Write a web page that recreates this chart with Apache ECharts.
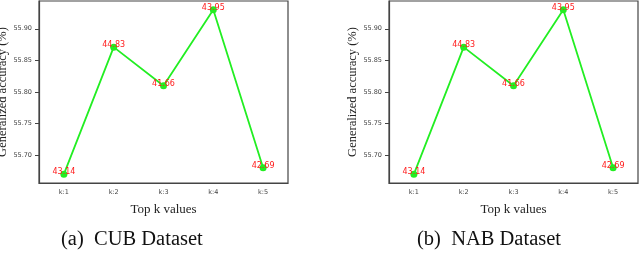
<!DOCTYPE html>
<html>
<head>
<meta charset="utf-8">
<script src="https://cdn.jsdelivr.net/npm/echarts@6/dist/echarts.min.js"></script>
<style>html,body{margin:0;padding:0;background:#fff}#c{width:640px;height:256px}</style>
</head>
<body>
<div id="c"></div>
<script>
var categories = ['k:1', 'k:2', 'k:3', 'k:4', 'k:5'];
var cubValues = [55.670, 55.871, 55.810, 55.930, 55.680];
var nabValues = [55.670, 55.871, 55.810, 55.930, 55.680];
var cubLabels = ['43.14', '44.83', '41.66', '43.95', '42.69'];
var nabLabels = ['43.14', '44.83', '41.66', '43.95', '42.69'];
var yTicks = [55.70, 55.75, 55.80, 55.85, 55.90];
var captions = ['(a)  CUB Dataset', '(b)  NAB Dataset'];
var yName = 'Generalized accuracy (%)';
var xName = 'Top k values';

var serif = '"Liberation Serif", "DejaVu Serif", serif';
var axisColor = '#444';

function xAxis(idx) {
  return {
    type: 'category', gridIndex: idx, data: categories, boundaryGap: true,
    name: xName, nameLocation: 'middle', nameGap: 20,
    nameTextStyle: { fontFamily: serif, fontSize: 13, color: '#222' },
    axisLine: { lineStyle: { color: axisColor, width: 1.2 } },
    axisTick: { alignWithLabel: true, length: 4, lineStyle: { color: axisColor } },
    axisLabel: { fontSize: 6.5, color: '#444', margin: 6, fontFamily: 'DejaVu Sans' },
    splitLine: { show: false }
  };
}
function yAxis(idx) {
  return {
    type: 'value', gridIndex: idx, min: 55.656, max: 55.944,
    name: yName, nameLocation: 'middle', nameGap: 28,
    nameTextStyle: { fontFamily: serif, fontSize: 12.5, color: '#222' },
    axisLine: { show: true, lineStyle: { color: axisColor, width: 1.2 } },
    axisTick: { show: true, length: 4, customValues: yTicks, lineStyle: { color: axisColor } },
    axisLabel: { fontSize: 6.5, color: '#444', margin: 7, fontFamily: 'DejaVu Sans', customValues: yTicks,
      formatter: function (v) { return v.toFixed(2); } },
    splitLine: { show: false }
  };
}
function series(idx, values, labels) {
  return {
    type: 'line', xAxisIndex: idx, yAxisIndex: idx, data: values,
    symbol: 'circle', symbolSize: 7,
    lineStyle: { color: '#22ee22', width: 1.8 },
    itemStyle: { color: '#22ee22' },
    label: { show: true, position: 'inside', offset: [0, -2], color: '#ff1a1a', fontSize: 8,
      fontFamily: 'DejaVu Sans',
      formatter: function (p) { return labels[p.dataIndex]; } },
    z: 3
  };
}

var chart = echarts.init(document.getElementById('c'), null, { renderer: 'canvas' });
chart.setOption({
  animation: false,
  grid: [
    { left: 39, right: 352, top: 1, bottom: 73, show: true, borderColor: axisColor, borderWidth: 1.2, outerBoundsMode: 'none', containLabel: false },
    { left: 389, right: 2, top: 1, bottom: 73, show: true, borderColor: axisColor, borderWidth: 1.2, outerBoundsMode: 'none', containLabel: false }
  ],
  xAxis: [xAxis(0), xAxis(1)],
  yAxis: [yAxis(0), yAxis(1)],
  series: [series(0, cubValues, cubLabels), series(1, nabValues, nabLabels)],
  graphic: [
    { type: 'text', left: 137 - 76, top: 229, style: { text: captions[0], font: '20.5px ' + serif, fill: '#111' } },
    { type: 'text', left: 494 - 77, top: 229, style: { text: captions[1], font: '20.5px ' + serif, fill: '#111' } }
  ]
});
</script>
</body>
</html>
